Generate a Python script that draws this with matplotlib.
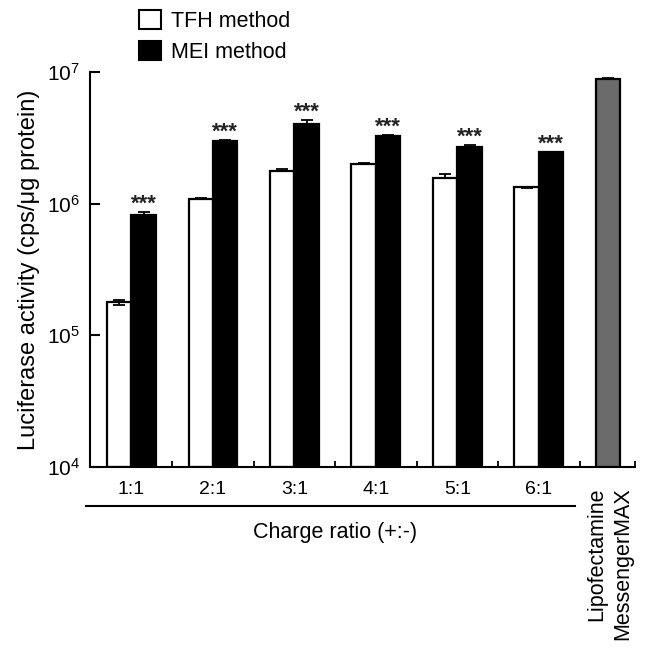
import matplotlib
matplotlib.use("Agg")
import matplotlib.pyplot as plt
import matplotlib.transforms as mtransforms
from matplotlib.patches import Patch
import numpy as np

plt.rcParams['font.family'] = ['Liberation Sans', 'DejaVu Sans']

ratios = ["1:1", "2:1", "3:1", "4:1", "5:1", "6:1"]
tfh = [1.70e5, 1.08e6, 1.77e6, 2.00e6, 1.57e6, 1.32e6]
tfh_err = [1.6e4, 1.5e4, 6.0e4, 2.5e4, 1.0e5, 2.5e4]
mei = [8.05e5, 2.99e6, 4.04e6, 3.26e6, 2.70e6, 2.45e6]
mei_err = [5.5e4, 4.0e4, 2.5e5, 5.0e4, 1.0e5, 1.5e4]
lipo = 8.84e6
lipo_err = 1.5e5
lipo_label = "Lipofectamine\nMessengerMAX"
sig = ["***"] * 6

W, H = 646, 649
fig = plt.figure(figsize=(W / 100, H / 100), dpi=100)
ax = fig.add_axes([90 / W, 1 - 467 / H, (635 - 90) / W, (467 - 72) / H])

bw = 0.3
x = np.arange(len(ratios))
ax.bar(x, tfh, width=bw, align='edge', color='white', edgecolor='black', linewidth=1.6, bottom=1e4, label='TFH method')
ax.bar(x + bw, mei, width=bw, align='edge', color='black', edgecolor='black', linewidth=1.6, bottom=1e4, label='MEI method')
ax.bar([len(ratios)], [lipo], width=bw, align='edge', color='#6b6b6b', edgecolor='black', linewidth=1.6, bottom=1e4)

kw = dict(fmt='none', ecolor='black', elinewidth=1.3, capsize=4, capthick=1.3)
ax.errorbar(x + bw / 2, tfh, yerr=[np.zeros(6), tfh_err], **kw)
ax.errorbar(x + 1.5 * bw, mei, yerr=[np.zeros(6), mei_err], **kw)
ax.errorbar([len(ratios) + bw / 2], [lipo], yerr=[[0], [lipo_err]], **kw)

for xi, v, e, s in zip(x + 1.5 * bw, mei, mei_err, sig):
    ax.annotate(s, (xi, v + e), xytext=(0, -2), textcoords='offset points',
                ha='center', va='bottom', fontsize=16, fontweight='bold', color='#222222')

ax.set_yscale('log')
ax.set_ylim(1e4, 1e7)
ax.set_xlim(-0.209, 6.479)
ax.set_yticks([1e4, 1e5, 1e6, 1e7])
ax.set_yticklabels([r'$\mathregular{10^{4}}$', r'$\mathregular{10^{5}}$',
                    r'$\mathregular{10^{6}}$', r'$\mathregular{10^{7}}$'])
ax.yaxis.set_minor_locator(matplotlib.ticker.NullLocator())
ax.tick_params(axis='y', which='major', direction='in', length=7, width=1.5, labelsize=15, pad=7)

ax.set_xticks(x + bw)
ax.set_xticklabels(ratios)
ax.tick_params(axis='x', which='major', length=0, labelsize=14, pad=10)
ax.set_xticks(list(x + 0.8) + [6.479], minor=True)
ax.tick_params(axis='x', which='minor', direction='in', length=4, width=1.3)

for sp in ['top', 'right']:
    ax.spines[sp].set_visible(False)
for sp in ['left', 'bottom']:
    ax.spines[sp].set_linewidth(1.5)

ax.set_ylabel('Luciferase activity (cps/μg protein)', fontsize=17, labelpad=5)

trans = mtransforms.blended_transform_factory(ax.transData, ax.transAxes)
ax.plot([-0.26, 5.74], [-0.098, -0.098], transform=trans, color='black', lw=1.5, clip_on=False)
ax.text(np.mean(x + bw), -0.165, 'Charge ratio (+:-)', transform=trans, ha='center', va='center', fontsize=15.5)
ax.text(len(ratios) + bw / 2 + 0.02, -0.052, lipo_label, transform=trans, rotation=90, ha='center', va='top',
        multialignment='right', fontsize=15.5, linespacing=1.3)

handles = [Patch(facecolor='white', edgecolor='black', linewidth=1.5, label='TFH method'),
           Patch(facecolor='black', edgecolor='black', linewidth=1.5, label='MEI method')]
fig.legend(handles=handles, loc='upper left', bbox_to_anchor=(139 / W, 1 - 10 / H), frameon=False,
           fontsize=15.5, handlelength=1.0, handleheight=1.0, handletextpad=0.5,
           labelspacing=0.4, borderpad=0, borderaxespad=0)

fig.savefig('out.png', dpi=100)
